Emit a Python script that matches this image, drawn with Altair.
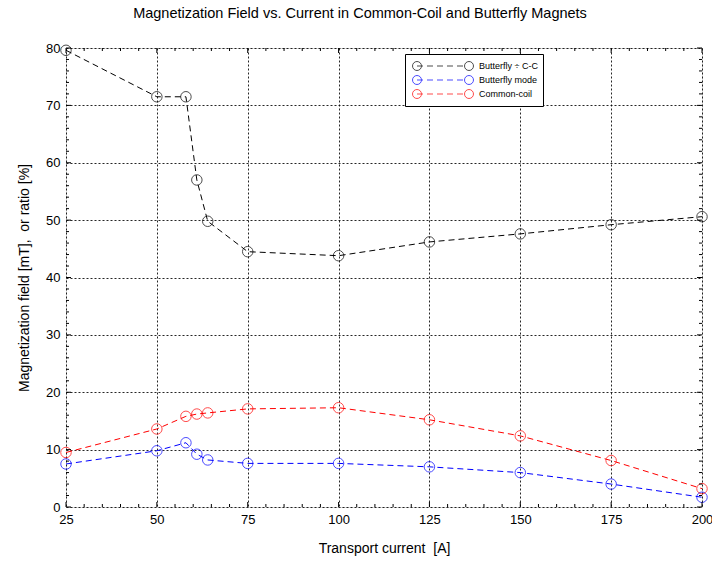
import altair as alt
import pandas as pd

# ---- data ----
current = [25, 50, 58, 61, 64, 75, 100, 125, 150, 175, 200]
ratio = [79.6, 71.5, 71.5, 57.0, 49.8, 44.5, 43.8, 46.2, 47.6, 49.2, 50.6]
butterfly = [7.5, 9.8, 11.2, 9.2, 8.2, 7.6, 7.6, 7.0, 6.0, 4.0, 1.7]
common = [9.5, 13.6, 15.8, 16.2, 16.4, 17.1, 17.3, 15.2, 12.4, 8.1, 3.2]
series_names = ["Butterfly \u00f7 C-C", "Butterfly mode", "Common-coil"]
series_colors = ["#000000", "#0000ff", "#ff0000"]

x_major = [25, 50, 75, 100, 125, 150, 175, 200]
x_minor = [30, 35, 40, 45, 55, 60, 65, 70, 80, 85, 90, 95, 105, 110, 115, 120,
           130, 135, 140, 145, 155, 160, 165, 170, 180, 185, 190, 195]
y_major = [0, 10, 20, 30, 40, 50, 60, 70, 80]
y_minor = [2, 4, 6, 8, 12, 14, 16, 18, 22, 24, 26, 28, 32, 34, 36, 38, 42, 44, 46, 48,
           52, 54, 56, 58, 62, 64, 66, 68, 72, 74, 76, 78]

rows = []
for name, vals in zip(series_names, [ratio, butterfly, common]):
    for c, v in zip(current, vals):
        rows.append({"current": c, "value": v, "series": name})
df = pd.DataFrame(rows)

W, H = 636, 459
FONT = "Liberation Sans"

# legend symbol: circle - dashes - circle (path in units of SYM/2 pixels)
SYM = 13
u = SYM / 2.0
rad = 4.5 / u
cx = 26 / u
parts = [f"M {-cx + rad:.3f} 0 A {rad:.3f} {rad:.3f} 0 1 0 {-cx - rad:.3f} 0 A {rad:.3f} {rad:.3f} 0 1 0 {-cx + rad:.3f} 0",
         f"M {cx + rad:.3f} 0 A {rad:.3f} {rad:.3f} 0 1 0 {cx - rad:.3f} 0 A {rad:.3f} {rad:.3f} 0 1 0 {cx + rad:.3f} 0"]
xpos = -cx
while xpos < cx - rad:
    x2 = min(xpos + 6 / u, cx - rad)
    parts.append(f"M {xpos:.3f} 0 L {x2:.3f} 0")
    xpos += 10 / u
sym_path = " ".join(parts)

xscale = alt.Scale(domain=[25, 200], nice=False, zero=False)
yscale = alt.Scale(domain=[0, 80], nice=False, zero=False)
cscale = alt.Scale(domain=series_names, range=series_colors)
legend = alt.Legend(title=None, orient="none", legendX=339, legendY=6,
                    symbolType=sym_path, symbolSize=SYM * SYM, symbolStrokeWidth=1,
                    labelFontSize=9, labelFont=FONT, labelColor="#000",
                    fillColor="white", strokeColor="black", padding=5,
                    rowPadding=-1, labelOffset=29, symbolOffset=26)

xaxis = alt.Axis(values=x_major, title="Transport current\u00a0\u00a0[A]", grid=True,
                 gridColor="#000", gridDash=[2, 2], gridOpacity=0.85,
                 ticks=False, domain=False, labelPadding=6, labelFontSize=13,
                 titleFontSize=14, titlePadding=15, titleFontWeight="normal",
                 labelFont=FONT, titleFont=FONT, labelColor="#000", titleColor="#000",
                 labelFlush=False)
yaxis = alt.Axis(values=y_major, title="Magnetization field [mT],\u00a0\u00a0or ratio [%]",
                 grid=True, gridColor="#000", gridDash=[2, 2], gridOpacity=0.85,
                 ticks=False, domain=False, labelPadding=6, labelFontSize=13,
                 titleFontSize=14, titlePadding=14, titleFontWeight="normal",
                 labelFont=FONT, titleFont=FONT, labelColor="#000", titleColor="#000",
                 labelFlush=False)

base = alt.Chart(df)
lines = base.mark_line(strokeDash=[6, 4], strokeWidth=1).encode(
    x=alt.X("current:Q", scale=xscale, axis=xaxis),
    y=alt.Y("value:Q", scale=yscale, axis=yaxis),
    color=alt.Color("series:N", scale=cscale, sort=series_names, legend=legend),
    detail="series:N",
)
points = base.mark_point(shape="circle", filled=False, size=110, strokeWidth=1).encode(
    x=alt.X("current:Q", scale=xscale, axis=xaxis),
    y=alt.Y("value:Q", scale=yscale, axis=yaxis),
    color=alt.Color("series:N", scale=cscale, sort=series_names, legend=legend),
)

def xticks(vals, length):
    d = pd.DataFrame({"v": vals})
    b = alt.Chart(d).mark_rule(color="#000", strokeWidth=1)
    enc = dict(x=alt.X("v:Q", scale=xscale, axis=xaxis))
    return (b.encode(y=alt.value(H), y2=alt.value(H - length), **enc) +
            b.encode(y=alt.value(0), y2=alt.value(length), **enc))

def yticks(vals, length):
    d = pd.DataFrame({"v": vals})
    b = alt.Chart(d).mark_rule(color="#000", strokeWidth=1)
    enc = dict(y=alt.Y("v:Q", scale=yscale, axis=yaxis))
    return (b.encode(x=alt.value(0), x2=alt.value(length), **enc) +
            b.encode(x=alt.value(W), x2=alt.value(W - length), **enc))

chart = alt.layer(
    lines, points,
    xticks(x_major, 5), xticks(x_minor, 3),
    yticks(y_major, 5), yticks(y_minor, 3),
).properties(
    width=W, height=H,
    title=alt.TitleParams("Magnetization Field vs. Current in Common-Coil and Butterfly Magnets",
                          fontSize=14.5, font=FONT, fontWeight="normal", color="#000",
                          anchor="middle", offset=21, dx=-24),
    autosize=alt.AutoSizeParams(type="none"),
    padding={"left": 66, "top": 48, "right": 10, "bottom": 54},
).configure_view(stroke="#000", strokeWidth=1.5).configure(background="white")

chart.save("out.html", embed_options={"renderer": "svg", "actions": False})
